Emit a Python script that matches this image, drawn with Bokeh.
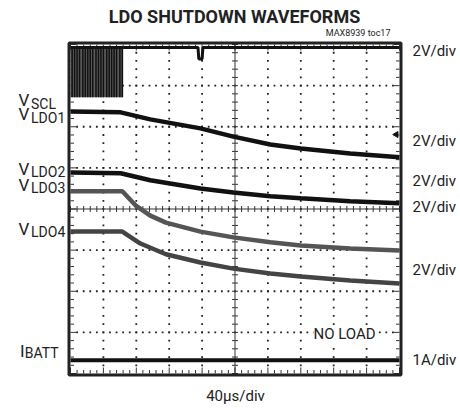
import numpy as np
from bokeh.plotting import figure
from bokeh.models import Label, Range1d
from bokeh.embed import file_html
from bokeh.resources import INLINE

# ---- data (time in us, amplitude in screen divisions, 0 = bottom of screen) ----
t_ldo12 = [0, 61, 97, 158, 198, 243, 280, 340, 400]
v_ldo1 = [6.37, 6.35, 6.18, 5.96, 5.76, 5.57, 5.47, 5.35, 5.26]
v_ldo2 = [4.89, 4.87, 4.70, 4.50, 4.40, 4.31, 4.26, 4.19, 4.14]
t_ldo3 = [0, 63, 79, 97, 116, 158, 198, 243, 280, 340, 400]
v_ldo3 = [4.43, 4.43, 4.09, 3.84, 3.67, 3.45, 3.31, 3.19, 3.11, 3.04, 2.99]
t_ldo4 = [0, 63, 85, 116, 158, 198, 243, 280, 340, 400]
v_ldo4 = [3.45, 3.45, 3.16, 2.90, 2.70, 2.55, 2.43, 2.36, 2.26, 2.19]
t_ibatt = [0, 400]
v_ibatt = [0.32, 0.32]
scl_high = 7.93
scl_low = 6.72
scl_burst_end = 64
scl_pulses = [2, 5, 8, 11, 15, 18, 21, 24, 27, 31, 34, 37, 40, 44, 47, 50, 53, 56, 60, 63]
t_scl = [64, 155, 156, 160, 161, 400]
v_scl = [7.93, 7.93, 7.65, 7.65, 7.93, 7.93]

FONT = "Roboto"

# pixel scale of the screen: 10 div x 8 div over 329 px
PX_X = 400 / 329.0
PX_Y = 8 / 329.0
X0 = -70 * PX_X
X1 = 390 * PX_X
Y0 = -36 * PX_Y
Y1 = 373 * PX_Y

p = figure(width=460, height=409, output_backend="svg", toolbar_location=None,
           x_range=Range1d(X0, X1), y_range=Range1d(Y0, Y1),
           min_border=0, min_border_left=0, min_border_right=0,
           min_border_top=0, min_border_bottom=0)
p.xaxis.visible = False
p.yaxis.visible = False
p.grid.visible = False
p.outline_line_color = None
p.background_fill_color = "white"
p.border_fill_color = "white"

# dotted graticule
gx, gy = [], []
for i in range(1, 10):
    if i == 5:
        continue
    for j in range(1, 40):
        gx.append(i * 40); gy.append(j * 0.2)
for m in range(1, 8):
    if m == 4:
        continue
    for k in range(1, 50):
        gx.append(k * 8); gy.append(m)
p.scatter(gx, gy, marker="square", size=1.8, color="#222222", line_width=0)

# center cross
p.segment(x0=[200], y0=[0], x1=[200], y1=[8], line_color="#333333", line_width=1)
p.segment(x0=[0], y0=[4], x1=[400], y1=[4], line_color="#333333", line_width=1)
vt = [j * 0.2 for j in range(41)]
ht = [k * 8 for k in range(51)]
p.scatter([200] * len(vt), vt, marker="dash", size=6, color="#333333", line_width=1)
p.scatter(ht, [4] * len(ht), marker="dash", angle=np.pi / 2, size=6, color="#333333", line_width=1)


def tl(k):
    return 6 if k % 5 == 0 else 3.5


# edge ticks, inward
p.segment(x0=ht, y0=[0] * len(ht), x1=ht, y1=[tl(k) * PX_Y for k in range(51)],
          line_color="#333333", line_width=1)
p.segment(x0=ht, y0=[8] * len(ht), x1=ht, y1=[8 - tl(k) * PX_Y for k in range(51)],
          line_color="#333333", line_width=1)
p.segment(x0=[0] * len(vt), y0=vt, x1=[tl(j) * PX_X for j in range(41)], y1=vt,
          line_color="#333333", line_width=1)
p.segment(x0=[400] * len(vt), y0=vt, x1=[400 - tl(j) * PX_X for j in range(41)], y1=vt,
          line_color="#333333", line_width=1)

# SCL burst
p.quad(left=0, right=scl_burst_end, bottom=scl_low, top=scl_high, fill_color="#5a5a5a", line_width=0)
p.segment(x0=scl_pulses, y0=[scl_low] * len(scl_pulses), x1=scl_pulses, y1=[scl_high] * len(scl_pulses),
          line_color="#111111", line_width=1.5)
p.segment(x0=[0], y0=[scl_high], x1=[scl_burst_end], y1=[scl_high], line_color="#111111", line_width=3)
p.line(t_scl, v_scl, line_color="#111111", line_width=3)

# LDO traces
p.line(t_ldo12, v_ldo1, line_color="#111111", line_width=4.5)
p.line(t_ldo12, v_ldo2, line_color="#111111", line_width=4.5)
p.line(t_ldo3, v_ldo3, line_color="#555555", line_width=4.5)
p.line(t_ldo4, v_ldo4, line_color="#444444", line_width=4.5)
p.line(t_ibatt, v_ibatt, line_color="#111111", line_width=4)

# level marker
p.scatter([396], [5.81], marker="triangle", angle=np.pi / 2, size=6, color="#111111")

# screen border
p.quad(left=-1.5 * PX_X, right=400 + 1.5 * PX_X, bottom=-1.5 * PX_Y, top=8 + 1.5 * PX_Y,
       fill_color=None, line_color="#222222", line_width=3)


def lab(x, y, text, size, align="left", bold=False, bg=None):
    kw = {}
    if bg:
        kw["background_fill_color"] = bg
    p.add_layout(Label(x=x, y=y, y_offset=5, text=text, text_font=FONT, text_font_size=f"{size}px",
                       text_align=align, text_baseline="alphabetic", text_color="#222222",
                       text_font_style="bold" if bold else "normal", **kw))


# left channel labels: (main, sub, baseline main, baseline sub)
chan = [("V", "SCL", 6.52, 6.44), ("V", "LDO1", 6.18, 6.10), ("V", "LDO2", 4.86, 4.78),
        ("V", "LDO3", 4.47, 4.40), ("V", "LDO4", 3.40, 3.32)]
for main, sub, b1, b2 in chan:
    lab(-63.2, b1, main, 17)
    lab(-48.0, b2, sub, 14)
lab(-61.5, 0.425, "I", 17)
lab(-55.5, 0.365, "BATT", 14)

# right scale labels
scales = [("2V/div", 7.72), ("2V/div", 5.52), ("2V/div", 4.55), ("2V/div", 3.92),
          ("2V/div", 2.40), ("1A/div", 0.20)]
for txt, b in scales:
    lab(415.8, b, txt, 15)

lab(199.4, 8.56, "LDO SHUTDOWN WAVEFORMS", 18, align="center", bold=True)
lab(389, 8.146, "MAX8939 toc17", 9, align="right")
lab(200.6, -0.657, "40µs/div", 15, align="center")
lab(295.4, 0.827, "NO LOAD", 15, bg="white")

open("out.html", "w").write(file_html(p, INLINE))
